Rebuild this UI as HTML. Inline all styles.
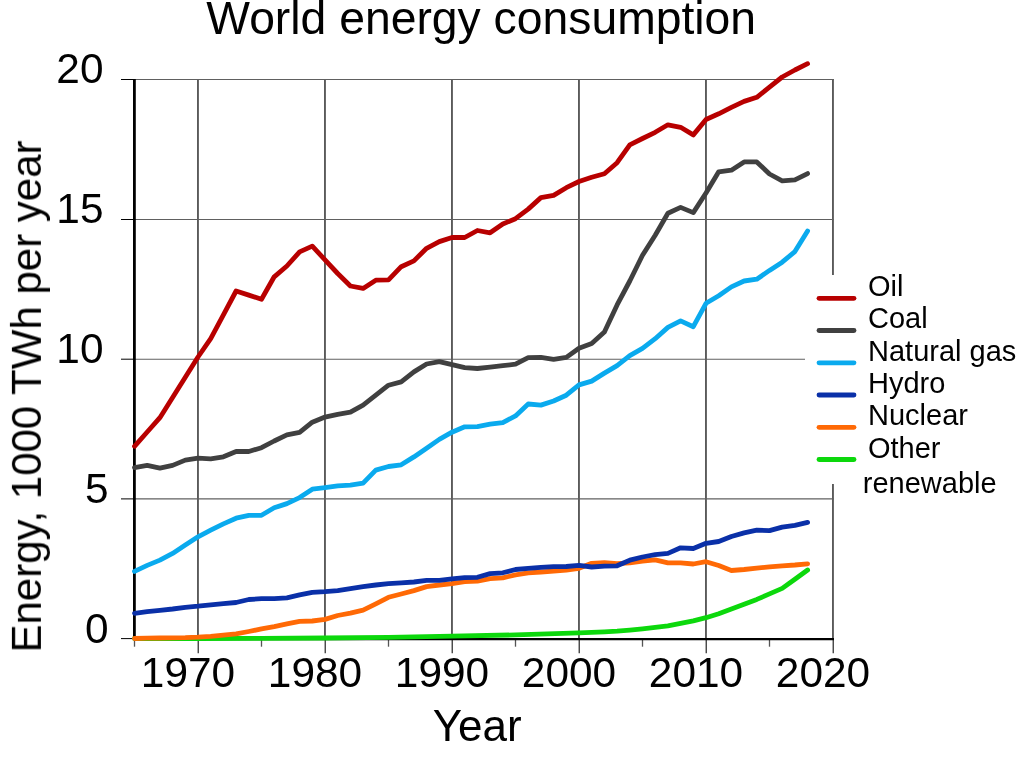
<!DOCTYPE html>
<html><head><meta charset="utf-8"><title>World energy consumption</title>
<style>html,body{margin:0;padding:0;background:#fff;}svg{display:block;}text{font-family:"Liberation Sans",Arial,Helvetica,sans-serif;fill:#000;}.t{opacity:0.999;}</style>
</head><body>
<svg width="1024" height="765" viewBox="0 0 1024 765">
<rect width="1024" height="765" fill="#fff"/>
<g stroke="#5a5a5a" stroke-width="1.9" fill="none"><line x1="197.95" y1="79" x2="197.95" y2="638"/><line x1="324.95" y1="79" x2="324.95" y2="638"/><line x1="451.95" y1="79" x2="451.95" y2="638"/><line x1="578.95" y1="79" x2="578.95" y2="638"/><line x1="705.95" y1="79" x2="705.95" y2="638"/><line x1="832.95" y1="79" x2="832.95" y2="638"/></g>
<g stroke="#606060" stroke-width="1.15" fill="none"><line x1="135" y1="79.5" x2="833.8" y2="79.5"/><line x1="135" y1="219.5" x2="833.8" y2="219.5"/><line x1="135" y1="359.2" x2="833.8" y2="359.2"/><line x1="135" y1="498.9" x2="833.8" y2="498.9"/></g>
<g stroke="#000" stroke-width="1" fill="none"><line x1="121" y1="79.5" x2="134" y2="79.5"/><line x1="121" y1="219.5" x2="134" y2="219.5"/><line x1="121" y1="359.2" x2="134" y2="359.2"/><line x1="121" y1="498.9" x2="134" y2="498.9"/><line x1="121" y1="638.6" x2="134" y2="638.6"/></g>
<g stroke="#111" stroke-width="1.1" fill="none"><line x1="198.20" y1="639" x2="198.20" y2="653.3"/><line x1="325.20" y1="639" x2="325.20" y2="653.3"/><line x1="452.20" y1="639" x2="452.20" y2="653.3"/><line x1="579.20" y1="639" x2="579.20" y2="653.3"/><line x1="706.20" y1="639" x2="706.20" y2="653.3"/><line x1="833.20" y1="639" x2="833.20" y2="653.3"/></g>
<g stroke="#555" stroke-width="1.3" fill="none"><line x1="134.50" y1="639" x2="134.50" y2="646.7"/><line x1="261.50" y1="639" x2="261.50" y2="646.7"/><line x1="388.50" y1="639" x2="388.50" y2="646.7"/><line x1="515.50" y1="639" x2="515.50" y2="646.7"/><line x1="642.50" y1="639" x2="642.50" y2="646.7"/><line x1="769.50" y1="639" x2="769.50" y2="646.7"/></g>
<line x1="134" y1="639.1" x2="834" y2="639.1" stroke="#000" stroke-width="2.2"/>
<line x1="134.4" y1="79" x2="134.4" y2="640" stroke="#000" stroke-width="2.8"/>
<g fill="none" stroke-width="4.8" stroke-linecap="round" stroke-linejoin="round"><polyline points="134.5,638.6 198.0,638.5 261.5,638.3 325.0,638.0 388.5,637.3 452.0,636.2 515.5,634.9 579.0,632.9 591.7,632.4 604.4,631.8 617.1,631.2 629.8,630.1 642.5,628.8 655.2,627.4 667.9,625.8 680.6,623.3 693.3,620.9 706.0,617.7 718.7,613.7 731.4,609.1 744.1,604.2 756.8,599.4 769.5,593.9 782.2,588.4 794.9,579.2 807.6,570.0" stroke="#0cd80c"/><polyline points="134.5,638.5 147.2,638.2 159.9,638.0 172.6,637.9 185.3,637.7 198.0,637.2 210.7,636.4 223.4,635.2 236.1,633.9 248.8,631.5 261.5,628.9 274.2,626.6 286.9,623.9 299.6,621.4 312.3,621.0 325.0,619.4 337.7,615.5 350.4,613.2 363.1,610.2 375.8,603.9 388.5,597.3 401.2,594.0 413.9,590.6 426.6,586.6 439.3,585.0 452.0,583.6 464.7,581.6 477.4,581.1 490.1,578.6 502.8,577.8 515.5,574.9 528.2,572.8 540.9,572.0 553.6,571.1 566.3,570.0 579.0,568.3 591.7,563.3 604.4,562.6 617.1,563.6 629.8,562.8 642.5,561.1 655.2,559.9 667.9,562.8 680.6,562.8 693.3,564.0 706.0,561.7 718.7,565.5 731.4,570.5 744.1,569.5 756.8,568.1 769.5,566.9 782.2,565.8 794.9,565.0 807.6,563.8" stroke="#ff6905"/><polyline points="134.5,613.3 147.2,611.6 159.9,610.3 172.6,609.0 185.3,607.3 198.0,606.2 210.7,604.8 223.4,603.7 236.1,602.5 248.8,599.5 261.5,598.7 274.2,598.7 286.9,597.9 299.6,594.9 312.3,592.3 325.0,591.6 337.7,590.6 350.4,588.6 363.1,586.6 375.8,585.0 388.5,583.7 401.2,582.8 413.9,582.0 426.6,580.4 439.3,580.4 452.0,578.9 464.7,577.6 477.4,577.3 490.1,573.6 502.8,572.8 515.5,569.5 528.2,568.3 540.9,567.3 553.6,566.6 566.3,566.5 579.0,565.3 591.7,567.0 604.4,566.2 617.1,565.8 629.8,560.2 642.5,557.0 655.2,554.6 667.9,553.4 680.6,547.8 693.3,548.5 706.0,543.3 718.7,541.5 731.4,536.5 744.1,532.9 756.8,530.2 769.5,530.6 782.2,527.1 794.9,525.3 807.6,522.4" stroke="#0a30a8"/><polyline points="134.5,571.4 147.2,565.4 159.9,560.1 172.6,553.4 185.3,545.1 198.0,536.8 210.7,530.2 223.4,523.9 236.1,518.2 248.8,515.3 261.5,515.3 274.2,507.8 286.9,503.6 299.6,497.6 312.3,489.2 325.0,487.6 337.7,485.9 350.4,485.1 363.1,483.1 375.8,470.1 388.5,466.5 401.2,464.8 413.9,456.9 426.6,448.2 439.3,439.4 452.0,432.2 464.7,426.8 477.4,426.7 490.1,424.2 502.8,422.6 515.5,415.9 528.2,404.0 540.9,405.1 553.6,401.0 566.3,395.2 579.0,384.9 591.7,381.1 604.4,373.1 617.1,365.6 629.8,355.6 642.5,348.4 655.2,338.7 667.9,327.4 680.6,320.9 693.3,326.7 706.0,303.3 718.7,295.7 731.4,286.9 744.1,281.0 756.8,279.2 769.5,270.4 782.2,262.2 794.9,251.6 807.6,231.0" stroke="#0aaaee"/><polyline points="134.5,467.6 147.2,465.4 159.9,468.1 172.6,465.4 185.3,460.1 198.0,458.1 210.7,458.8 223.4,456.8 236.1,451.5 248.8,451.5 261.5,447.7 274.2,441.0 286.9,434.9 299.6,432.4 312.3,422.2 325.0,417.1 337.7,414.3 350.4,412.1 363.1,405.1 375.8,395.2 388.5,385.2 401.2,381.9 413.9,371.9 426.6,364.0 439.3,361.6 452.0,364.6 464.7,367.7 477.4,368.5 490.1,367.1 502.8,365.7 515.5,364.2 528.2,357.7 540.9,357.4 553.6,359.4 566.3,357.4 579.0,348.2 591.7,343.6 604.4,331.9 617.1,304.9 629.8,281.0 642.5,255.3 655.2,235.2 667.9,213.2 680.6,207.4 693.3,212.6 706.0,193.0 718.7,171.8 731.4,170.2 744.1,161.9 756.8,161.9 769.5,174.0 782.2,180.9 794.9,179.9 807.6,173.6" stroke="#404040"/><polyline points="134.5,446.3 147.2,432.0 159.9,417.7 172.6,397.5 185.3,377.3 198.0,357.0 210.7,338.7 223.4,314.9 236.1,291.0 248.8,295.1 261.5,299.3 274.2,276.8 286.9,266.0 299.6,251.9 312.3,246.1 325.0,259.9 337.7,273.5 350.4,286.0 363.1,288.4 375.8,280.2 388.5,279.9 401.2,266.7 413.9,260.9 426.6,248.3 439.3,241.6 452.0,237.5 464.7,237.5 477.4,230.5 490.1,232.8 502.8,224.0 515.5,218.7 528.2,209.1 540.9,197.6 553.6,195.4 566.3,187.7 579.0,181.5 591.7,177.3 604.4,173.7 617.1,162.7 629.8,144.8 642.5,138.5 655.2,132.3 667.9,124.8 680.6,127.3 693.3,134.9 706.0,119.5 718.7,113.8 731.4,107.4 744.1,101.4 756.8,97.3 769.5,87.1 782.2,77.0 794.9,70.0 807.6,63.7" stroke="#b80000"/></g>
<rect x="805" y="275" width="219" height="209" fill="#fff"/>
<g stroke-width="4.8" stroke-linecap="round"><line x1="819" y1="298.3" x2="854" y2="298.3" stroke="#b80000"/><line x1="819" y1="330.5" x2="854" y2="330.5" stroke="#404040"/><line x1="819" y1="362.8" x2="854" y2="362.8" stroke="#0aaaee"/><line x1="819" y1="395.0" x2="854" y2="395.0" stroke="#0a30a8"/><line x1="819" y1="427.3" x2="854" y2="427.3" stroke="#ff6905"/><line x1="819" y1="459.5" x2="854" y2="459.5" stroke="#0cd80c"/></g>
<g class="t">
<g font-size="29"><text x="868" y="295.9">Oil</text><text x="868" y="328.1">Coal</text><text x="868" y="360.8">Natural gas</text><text x="868" y="392.8">Hydro</text><text x="868" y="424.9">Nuclear</text><text x="868" y="457.8">Other</text><text x="862.8" y="492.9">renewable</text></g>
<g font-size="42.4"><text x="103.5" y="83.2" text-anchor="end">20</text><text x="103.5" y="222.8" text-anchor="end">15</text><text x="103.5" y="362.8" text-anchor="end">10</text><text x="108.6" y="502.8" text-anchor="end">5</text><text x="108.6" y="642.6" text-anchor="end">0</text><text x="188.0" y="687.2" text-anchor="middle">1970</text><text x="315.0" y="687.2" text-anchor="middle">1980</text><text x="442.0" y="687.2" text-anchor="middle">1990</text><text x="569.0" y="687.2" text-anchor="middle">2000</text><text x="696.0" y="687.2" text-anchor="middle">2010</text><text x="823.0" y="687.2" text-anchor="middle">2020</text></g>
<text x="481.2" y="33.6" font-size="46.3" text-anchor="middle">World energy consumption</text>
<text x="477.2" y="740.7" font-size="44" text-anchor="middle">Year</text>
<text transform="translate(40.9,396.5) rotate(-90)" font-size="42" text-anchor="middle">Energy, 1000 TWh per year</text>
</g>
</svg>
</body></html>
